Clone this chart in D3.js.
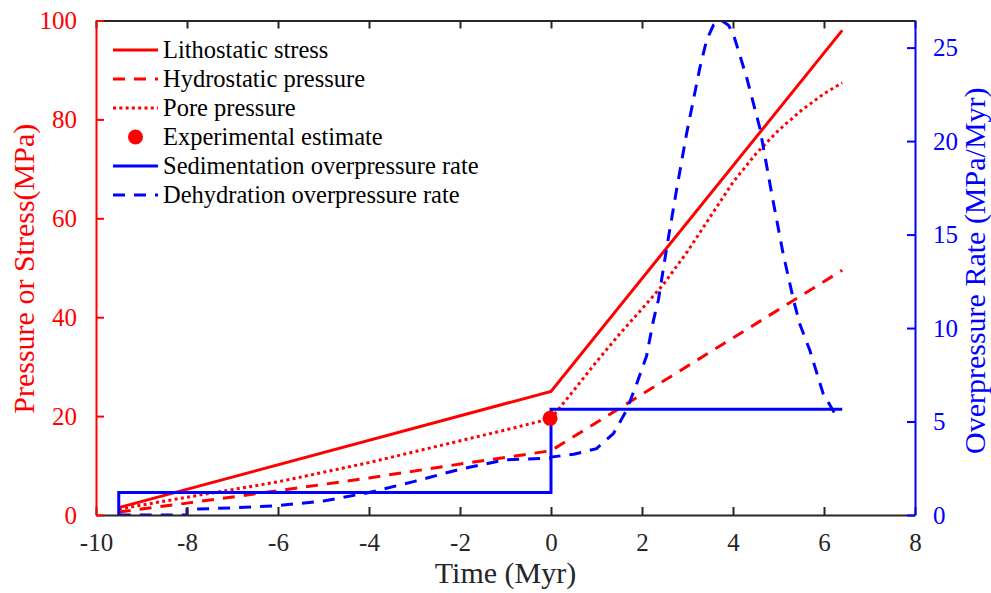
<!DOCTYPE html>
<html>
<head>
<meta charset="utf-8">
<script src="https://cdn.jsdelivr.net/npm/d3@7"></script>
<style>
  body { margin: 0; background: #fff; }
  svg text { font-family: "Liberation Serif", "DejaVu Serif", serif !important; }
</style>
</head>
<body>
<script>
// time axis in Myr, pressures in MPa, rates in MPa/Myr
let lithoTime = [-9.5, 0, 6.4]
let lithoVal = [1.5, 25, 98]

let hydroTime = [-9.5, -8, -6, -4, -2, 0, 6.4]
let hydroVal = [0.6, 2.4, 4.9, 7.5, 10.3, 13, 49.5]

let poreTime = [-9.5, -8, -6, -4, -2, -1, 0, 0.5, 1, 1.5, 2, 2.5, 3, 3.5, 4, 4.5, 5, 5.5, 6, 6.4]
let poreVal = [1.2, 3.6, 6.7, 10.6, 15.0, 17.2, 19.5, 25.2, 31, 36.5, 41.7, 47, 53.3, 60.3, 67.3, 73, 77.8, 81.8, 85.2, 87.4]

let expTime = [-0.02]
let expVal = [19.55]

let sedTime = [-9.5, -9.5, 0, 0, 6.4]
let sedRate = [0, 1.2, 1.2, 5.65, 5.65]

let dehyTime = [-9.5, -8, -8, -7, -6, -5, -4, -3, -2, -1, -0.01, 0, 0.5, 1, 1.37, 1.66, 1.88, 2.1, 2.25, 2.36, 2.53, 2.76, 2.98, 3.27, 3.42, 3.57, 3.75, 3.9, 4.01, 4.3, 4.59, 4.85, 5.1, 5.33, 5.47, 5.69, 5.98, 6.28]
let dehyRate = [0, 0, 0.3, 0.38, 0.5, 0.75, 1.2, 1.8, 2.45, 2.95, 3.05, 3.1, 3.25, 3.55, 4.35, 5.6, 7.0, 8.5, 10.4, 11.5, 14.1, 17.4, 20.4, 23.9, 25.4, 26.2, 26.45, 26.2, 25.7, 23.4, 20.7, 17.2, 14.0, 11.5, 10.2, 8.8, 6.5, 5.25]

let xTicks = [-10, -8, -6, -4, -2, 0, 2, 4, 6, 8]
let leftTicks = [0, 20, 40, 60, 80, 100]
let rightTicks = [0, 5, 10, 15, 20, 25]

let legendNames = ["Lithostatic stress", "Hydrostatic pressure", "Pore pressure",
  "Experimental estimate", "Sedimentation overpressure rate", "Dehydration overpressure rate"]

let width = 991, height = 593
let margin = {left: 96, right: 76, top: 20.5, bottom: 78}

let red = "#ff0000", blue = "#0000ff", dark = "#262626"
let dashed = "12,9", dotted = "3,3.3"
let serif = '"Liberation Serif", "DejaVu Serif", serif'

let svg = d3.select("body").append("svg")
    .attr("width", width)
    .attr("height", height)
    .style("font-family", serif)

let x = d3.scaleLinear().domain([-10, 8]).range([margin.left, width - margin.right])
let yL = d3.scaleLinear().domain([0, 100]).range([height - margin.bottom, margin.top])
let yR = d3.scaleLinear().domain([0, 26.45]).range([height - margin.bottom, margin.top])

svg.append("clipPath").attr("id", "clip")
    .append("rect")
    .attr("x", margin.left).attr("y", margin.top)
    .attr("width", width - margin.left - margin.right)
    .attr("height", height - margin.top - margin.bottom)

let plot = svg.append("g").attr("clip-path", "url(#clip)")

function drawLine(ts, vs, yScale, color, dash) {
    let pts = ts.map((t, i) => [t, vs[i]])
    plot.append("path")
        .datum(pts)
        .attr("d", d3.line().x(d => x(d[0])).y(d => yScale(d[1])))
        .attr("fill", "none")
        .attr("stroke", color)
        .attr("stroke-width", 3)
        .attr("stroke-dasharray", dash)
}

drawLine(lithoTime, lithoVal, yL, red, null)
drawLine(hydroTime, hydroVal, yL, red, dashed)
drawLine(poreTime, poreVal, yL, red, dotted)
drawLine(sedTime, sedRate, yR, blue, null)
drawLine(dehyTime, dehyRate, yR, blue, dashed)

plot.selectAll("circle.exp")
    .data(expTime)
    .enter()
    .append("circle")
    .attr("class", "exp")
    .attr("cx", d => x(d))
    .attr("cy", (d, i) => yL(expVal[i]))
    .attr("r", 7.5)
    .attr("fill", red)

// axes
let plotBottom = height - margin.bottom
let plotTop = margin.top
let hyphen = d => String(d)   // keep the plain "-" like the original

let gB = svg.append("g").attr("transform", `translate(0,${plotBottom})`)
    .call(d3.axisBottom(x).tickValues(xTicks).tickSizeInner(-8).tickSizeOuter(0).tickPadding(18).tickFormat(hyphen))
let gT = svg.append("g").attr("transform", `translate(0,${plotTop})`)
    .call(d3.axisTop(x).tickValues(xTicks).tickSizeInner(-8).tickSizeOuter(0).tickFormat(""))
let gL = svg.append("g").attr("transform", `translate(${margin.left},0)`)
    .call(d3.axisLeft(yL).tickValues(leftTicks).tickSizeInner(-8).tickSizeOuter(0).tickPadding(19).tickFormat(hyphen))
let gR = svg.append("g").attr("transform", `translate(${width - margin.right},0)`)
    .call(d3.axisRight(yR).tickValues(rightTicks).tickSizeInner(-8).tickSizeOuter(0).tickPadding(18).tickFormat(hyphen))

function styleAxis(g, color) {
    g.attr("font-family", null).attr("font-size", null)
    g.select(".domain").attr("stroke", color).attr("stroke-width", 2)
    g.selectAll(".tick line").attr("stroke", color).attr("stroke-width", 2)
    g.selectAll(".tick text")
        .attr("fill", color)
        .style("font-size", "25px")
        .style("font-family", serif)
}
styleAxis(gB, dark)
styleAxis(gT, dark)
styleAxis(gL, red)
styleAxis(gR, blue)
gB.selectAll(".tick text").attr("dy", "0.71em")

// axis titles
svg.append("text")
    .attr("x", (margin.left + width - margin.right) / 2)
    .attr("y", 583)
    .attr("text-anchor", "middle")
    .attr("fill", dark)
    .style("font-size", "30px")
    .text("Time (Myr)")

svg.append("text")
    .attr("transform", `translate(34,${(plotTop + plotBottom) / 2 + 1}) rotate(-90)`)
    .attr("text-anchor", "middle")
    .attr("fill", red)
    .style("font-size", "30px")
    .text("Pressure or Stress(MPa)")

svg.append("text")
    .attr("transform", `translate(985,${(plotTop + plotBottom) / 2 + 3}) rotate(-90)`)
    .attr("text-anchor", "middle")
    .attr("fill", blue)
    .style("font-size", "30px")
    .text("Overpressure Rate (MPa/Myr)")

// legend
let legColors = [red, red, red, red, blue, blue]
let legDash = [null, dashed, dotted, null, null, dashed]
let leg = svg.append("g")
legendNames.forEach((name, i) => {
    let cy = 50 + i * 29
    if (i === 3) {
        leg.append("circle").attr("cx", 135.5).attr("cy", cy).attr("r", 7.5).attr("fill", red)
    } else {
        leg.append("line")
            .attr("x1", 113).attr("x2", 158)
            .attr("y1", cy).attr("y2", cy)
            .attr("stroke", legColors[i])
            .attr("stroke-width", 3)
            .attr("stroke-dasharray", legDash[i])
    }
    leg.append("text")
        .attr("x", 163)
        .attr("y", cy + 8)
        .attr("fill", "#000")
        .style("font-size", "24.5px")
        .text(name)
})
</script>
</body>
</html>
